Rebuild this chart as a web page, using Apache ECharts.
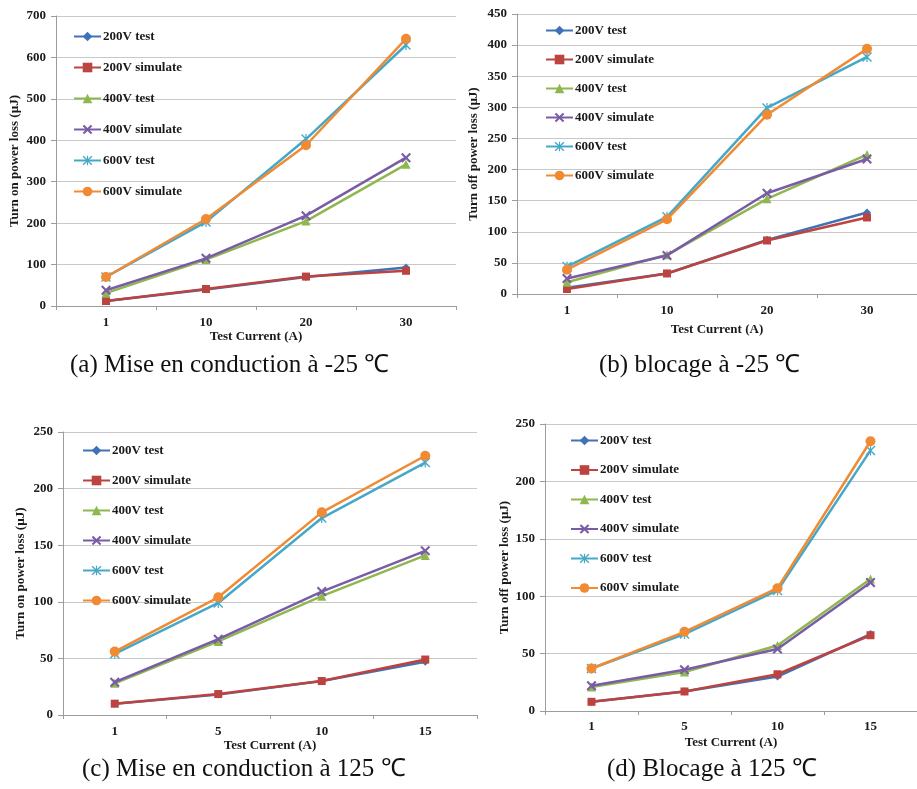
<!DOCTYPE html>
<html>
<head>
<meta charset="utf-8">
<script src="https://cdn.jsdelivr.net/npm/echarts@6/dist/echarts.min.js"></script>
<style>
html,body{margin:0;padding:0;background:#fff;}
#c{width:917px;height:789px;}
</style>
</head>
<body>
<div id="c"></div>
<script>
// ---- categories ----
const catsLow = ['1', '10', '20', '30'];
const catsHigh = ['1', '5', '10', '15'];
const seriesNames = ['200V test', '200V simulate', '400V test', '400V simulate', '600V test', '600V simulate'];

// ---- (a) turn on, -25 C ----
const a200Test = [12, 40, 70, 93];
const a200Sim = [12, 41, 71, 85];
const a400Test = [31, 112, 205, 342];
const a400Sim = [38, 115, 218, 358];
const a600Test = [70, 203, 403, 630];
const a600Sim = [70, 210, 388, 645];

// ---- (b) turn off, -25 C ----
const b200Test = [10, 33, 87, 131];
const b200Sim = [8, 33, 86, 123];
const b400Test = [19, 63, 153, 224];
const b400Sim = [25, 62, 162, 217];
const b600Test = [44, 124, 299, 381];
const b600Sim = [39, 120, 288, 394];

// ---- (c) turn on, 125 C ----
const c200Test = [10, 18, 30, 47];
const c200Sim = [10, 18.5, 30, 49];
const c400Test = [28, 65, 105, 141];
const c400Sim = [29, 67, 109, 145];
const c600Test = [54, 99, 174, 223];
const c600Sim = [56, 104, 179, 229];

// ---- (d) turn off, 125 C ----
const d200Test = [8, 17, 30, 67];
const d200Sim = [8, 17, 32, 66];
const d400Test = [21, 34, 57, 115];
const d400Sim = [22, 36, 54, 112];
const d600Test = [37, 67, 105, 227];
const d600Sim = [37, 69, 107, 235];

// ---- captions / axis titles ----
const captions = ['(a) Mise en conduction à -25 ℃', '(b) blocage à -25 ℃', '(c) Mise en conduction à 125 ℃', '(d) Blocage à 125 ℃'];
const yTitles = ['Turn on power loss (µJ)', 'Turn off power loss (µJ)', 'Turn on power loss (µJ)', 'Turn off power loss (µJ)'];
const xTitle = 'Test Current (A)';

const colors = ['#3f72b6', '#bb4340', '#8fb74f', '#7a5ca6', '#45a8c8', '#f08a33'];
const symX = 'path://M0,1.5L1.5,0L5,3.5L8.5,0L10,1.5L6.5,5L10,8.5L8.5,10L5,6.5L1.5,10L0,8.5L3.5,5Z';
const symStar = 'path://M0,1L1,0L5,4L9,0L10,1L6,5L10,9L9,10L5,6L1,10L0,9L4,5Z M4.4,0L5.6,0L5.6,10L4.4,10Z';
const symbols = ['diamond', 'rect', 'triangle', symX, symStar, 'circle'];
const symSizes = [8, 8, 9, 10, 10, 10];

const panelData = [
  [a200Test, a200Sim, a400Test, a400Sim, a600Test, a600Sim],
  [b200Test, b200Sim, b400Test, b400Sim, b600Test, b600Sim],
  [c200Test, c200Sim, c400Test, c400Sim, c600Test, c600Sim],
  [d200Test, d200Sim, d400Test, d400Sim, d600Test, d600Sim]
];
const panelCats = [catsLow, catsLow, catsHigh, catsHigh];

// layout
const grids = [
  {left: 56, top: 16, width: 400, height: 290},
  {left: 517, top: 14, width: 412, height: 280},
  {left: 63, top: 432, width: 414, height: 283},
  {left: 545, top: 424, width: 374, height: 287}
];
const yMax = [700, 450, 250, 250];
const yInt = [100, 50, 50, 50];
const yNameGap = [35, 37, 36, 32];
const xLabelMargin = [10, 10, 10, 9];
const xNameGap = [20, 29, 20, 25];
const legendPos = [
  {left: 68, top: 25, gap: 18},
  {left: 540, top: 19, gap: 16},
  {left: 77, top: 439, gap: 17},
  {left: 565, top: 429, gap: 16.5}
];
const captionPos = [[70, 366], [599, 366], [82, 770], [607, 770]];
const CAP_SIZE = 25;

const FONT = 'Liberation Serif';
const txt = {fontFamily: FONT, fontWeight: 'bold', fontSize: 12, color: '#1a1a1a'};
const txt13 = Object.assign({}, txt, {fontSize: 13});

const option = {
  animation: false,
  backgroundColor: '#fff',
  grid: grids.map(g => Object.assign({containLabel: false}, g)),
  xAxis: grids.map((g, i) => ({
    type: 'category', gridIndex: i, data: panelCats[i], boundaryGap: true,
    axisLine: {lineStyle: {color: '#9c9c9c', width: 1}},
    axisTick: {show: true, alignWithLabel: false, length: 4, lineStyle: {color: '#9c9c9c'}},
    axisLabel: Object.assign({margin: xLabelMargin[i]}, txt13),
    name: xTitle, nameLocation: 'middle', nameGap: xNameGap[i],
    nameTextStyle: Object.assign({}, txt13)
  })),
  yAxis: grids.map((g, i) => ({
    type: 'value', gridIndex: i, min: 0, max: yMax[i], interval: yInt[i],
    axisLine: {show: true, lineStyle: {color: '#9c9c9c', width: 1}},
    axisTick: {show: true, length: 5, lineStyle: {color: '#9c9c9c'}},
    axisLabel: Object.assign({margin: 10}, txt13),
    splitLine: {lineStyle: {color: '#c8c8c8', width: 1.2}},
    name: yTitles[i], nameLocation: 'middle', nameGap: yNameGap[i], nameRotate: 90,
    nameTextStyle: Object.assign({}, txt13)
  })),
  legend: legendPos.map(p => ({
    orient: 'vertical', left: p.left, top: p.top, itemGap: p.gap,
    itemWidth: 27, itemHeight: 12,
    data: seriesNames,
    textStyle: Object.assign({padding: [0, 0, 0, -3], lineHeight: 13}, txt13),
    selectedMode: false
  })),
  series: [],
  graphic: captions.map((t, i) => ({
    type: 'text', left: captionPos[i][0], top: captionPos[i][1] - CAP_SIZE / 2 - 1,
    style: {text: t, font: CAP_SIZE + 'px "Liberation Serif"', fill: '#111'}
  }))
};

panelData.forEach((arrs, p) => {
  arrs.forEach((vals, s) => {
    option.series.push({
      type: 'line', name: seriesNames[s], xAxisIndex: p, yAxisIndex: p,
      data: vals, symbol: symbols[s], symbolSize: symSizes[s], showSymbol: true,
      lineStyle: {color: colors[s], width: 2.5},
      itemStyle: {color: colors[s], borderWidth: 0},
      z: 2 + s
    });
  });
});

const chart = echarts.init(document.getElementById('c'), null, {renderer: 'canvas'});
chart.setOption(option);
</script>
</body>
</html>
